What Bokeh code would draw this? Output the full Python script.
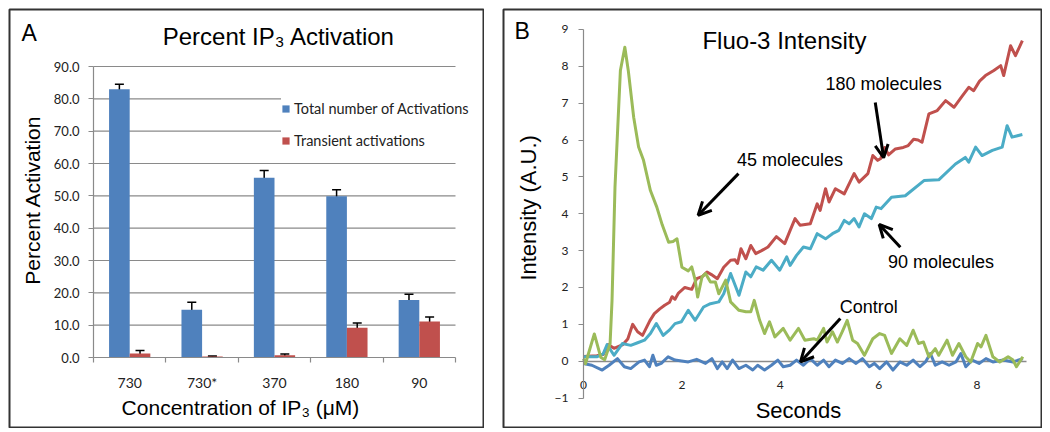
import math
from bokeh.plotting import figure
from bokeh.layouts import row, column
from bokeh.models import (ColumnDataSource, Range1d, FixedTicker, NumeralTickFormatter, Whisker,
                          TeeHead, Legend, LegendItem, Label, Arrow, OpenHead, Spacer)
from bokeh.embed import file_html
from bokeh.resources import INLINE

# ---------------- Panel A data ----------------
categories = ["730", "730*", "370", "180", "90"]
total_pct = [83.0, 14.8, 55.6, 49.9, 17.8]
total_err = [1.5, 2.3, 2.2, 2.0, 1.8]
transient_pct = [1.2, 0.3, 0.7, 9.2, 11.1]
transient_err = [1.0, 0.15, 0.4, 1.5, 1.4]
y_ticks_a = [0, 10, 20, 30, 40, 50, 60, 70, 80, 90]
series_a = ["Total number of Activations", "Transient activations"]

# ---------------- Panel B data ----------------
control_x = [0, 0.17, 0.38, 0.52, 0.69, 0.83, 0.96, 1.13, 1.24, 1.34, 1.41, 1.48, 1.58, 1.72, 1.86,
             2.13, 2.3, 2.48, 2.61, 2.72, 2.82, 2.92, 3.03, 3.16, 3.3, 3.44, 3.54, 3.68, 3.82, 3.95,
             4.06, 4.2, 4.33, 4.47, 4.61, 4.75, 4.88, 4.99, 5.12, 5.26, 5.4, 5.54, 5.67, 5.81, 5.91,
             6.02, 6.16, 6.29, 6.43, 6.57, 6.7, 6.84, 6.95, 7.05, 7.15, 7.29, 7.43, 7.57, 7.67, 7.77,
             7.9, 8.04, 8.18, 8.32, 8.53, 8.73, 8.93]
control_y = [-0.06, -0.11, -0.24, -0.11, 0.07, -0.15, -0.2, -0.02, 0.03, -0.15, 0.16, -0.11, -0.06, 0.12, 0.03,
             -0.02, 0.05, -0.06, 0.07, -0.2, -0.02, -0.2, 0.03, -0.2, -0.11, -0.24, -0.11, -0.24, -0.11, 0.03,
             -0.15, -0.11, 0.03, -0.11, 0.07, -0.11, 0.03, -0.15, 0.03, -0.06, 0.07, -0.06, 0.07, -0.15, -0.06,
             -0.2, -0.02, -0.24, -0.02, -0.11, 0.03, -0.15, -0.02, 0.21, -0.11, -0.02, -0.11, -0.02, 0.21, -0.15,
             0.03, -0.06, 0.07, -0.02, 0.03, -0.02, 0.07]

m180_x = [0, 0.27, 0.4, 0.5, 0.62, 0.8, 0.9, 1.0, 1.1, 1.2, 1.35, 1.44, 1.55, 1.65, 1.75, 1.8, 1.86, 1.93,
          2.06, 2.2, 2.3, 2.42, 2.51, 2.6, 2.72, 2.85, 2.99, 3.08, 3.13, 3.2, 3.3, 3.4, 3.5, 3.62, 3.75,
          3.92, 4.09, 4.2, 4.3, 4.4, 4.61, 4.75, 4.81, 4.92, 4.99, 5.12, 5.3, 5.5, 5.6, 5.78, 5.88, 5.98,
          6.04, 6.12, 6.2, 6.34, 6.5, 6.6, 6.71, 6.8, 6.88, 7.02, 7.19, 7.36, 7.53, 7.7, 7.83, 7.93, 8.05,
          8.17, 8.34, 8.48, 8.54, 8.68, 8.78, 8.92]
m180_y = [0.13, 0.15, 0.18, 0.45, 0.35, 0.45, 0.6, 1.0, 0.8, 0.7, 1.1, 1.29, 1.42, 1.52, 1.6, 1.75, 1.68, 1.85,
          2.0, 1.95, 2.24, 2.3, 2.42, 2.35, 2.24, 2.55, 2.74, 2.75, 2.65, 3.05, 2.78, 3.14, 2.92, 3.0, 3.1,
          3.38, 3.19, 3.55, 3.87, 3.69, 3.73, 4.27, 4.09, 4.68, 4.32, 4.68, 4.54, 5.09, 4.86, 5.09, 5.58, 5.45,
          5.5, 5.8, 5.6, 5.76, 5.8, 5.85, 6.02, 6.0, 5.94, 6.71, 6.8, 7.07, 6.89, 7.2, 7.43, 7.34, 7.6,
          7.75, 7.89, 8.02, 7.75, 8.56, 8.29, 8.7]

m90_x = [0, 0.27, 0.4, 0.48, 0.62, 0.79, 0.96, 1.1, 1.24, 1.36, 1.48, 1.62, 1.75, 1.86, 1.99, 2.13, 2.27,
         2.44, 2.58, 2.75, 2.85, 2.99, 3.16, 3.3, 3.4, 3.51, 3.65, 3.82, 3.99, 4.13, 4.2, 4.33, 4.47, 4.61,
         4.75, 4.92, 5.06, 5.19, 5.3, 5.4, 5.5, 5.6, 5.71, 5.85, 5.95, 6.05, 6.26, 6.54, 6.92, 7.22, 7.56,
         7.66, 7.76, 7.83, 7.97, 8.1, 8.31, 8.51, 8.61, 8.71, 8.92]
m90_y = [0.12, 0.12, 0.2, 0.45, 0.16, 0.48, 0.43, 0.5, 0.57, 0.75, 1.02, 0.7, 0.85, 1.02, 1.07, 1.38, 1.11,
         1.47, 1.56, 1.61, 1.83, 2.38, 1.79, 2.42, 2.29, 2.56, 2.47, 2.74, 2.47, 2.83, 2.6, 2.87, 3.1, 3.05,
         3.46, 3.32, 3.46, 3.55, 3.82, 3.73, 3.87, 3.64, 4.0, 3.87, 4.18, 4.14, 4.45, 4.49, 4.9, 4.92, 5.35,
         5.44, 5.53, 5.4, 5.81, 5.58, 5.72, 5.81, 6.39, 6.08, 6.15]

m45_x = [0, 0.04, 0.22, 0.35, 0.43, 0.54, 0.58, 0.64, 0.75, 0.84, 0.91, 1.02, 1.12, 1.22, 1.36, 1.49, 1.6,
         1.73, 1.82, 1.9, 2.0, 2.13, 2.2, 2.27, 2.32, 2.41, 2.48, 2.58, 2.68, 2.75, 2.89, 2.99, 3.16, 3.3,
         3.4, 3.47, 3.58, 3.68, 3.78, 3.89, 4.06, 4.2, 4.37, 4.5, 4.68, 4.75, 4.88, 4.95, 5.06, 5.16, 5.26,
         5.36, 5.47, 5.57, 5.71, 5.88, 6.02, 6.12, 6.26, 6.43, 6.57, 6.7, 6.81, 6.91, 7.02, 7.15, 7.22, 7.39,
         7.5, 7.63, 7.77, 7.87, 8.01, 8.08, 8.18, 8.32, 8.46, 8.63, 8.73, 8.8, 8.93]
m45_y = [0.07, -0.07, 0.74, 0.11, 0.04, 0.47, 1.65, 4.72, 7.89, 8.52, 7.89, 6.62, 5.81, 5.45, 4.63, 4.18, 3.7,
         3.23, 3.25, 3.32, 2.55, 2.45, 2.56, 2.2, 1.74, 2.29, 2.38, 2.15, 2.15, 1.83, 2.2, 1.61, 1.38, 1.34,
         1.34, 1.65, 1.11, 0.75, 1.07, 0.66, 0.89, 0.57, 0.89, 0.57, 0.61, 0.57, 0.89, 0.52, 0.8, 0.52, 0.8,
         1.11, 0.57, 0.48, 0.16, 0.61, 0.75, 0.7, 0.21, 0.61, 0.43, 0.84, 0.48, 0.52, 0.12, 0.34, 0.16, 0.57,
         0.16, 0.48, 0.12, -0.02, 0.48, 0.39, 0.7, 0.12, -0.02, 0.12, 0.03, -0.15, 0.12]

x_ticks_b = [0, 2, 4, 6, 8]
y_ticks_b = [-1, 0, 1, 2, 3, 4, 5, 6, 7, 8, 9]
x_max_b = 9

# annotation texts: (text, left x, vertical centre y) and arrows: (x_start, y_start, x_end, y_end)
notes_b = [("180 molecules", 4.92, 7.52), ("45 molecules", 3.12, 5.47),
           ("90 molecules", 6.19, 2.69), ("Control", 5.21, 1.465)]
arrows_b = [(5.93, 7.02, 6.10, 5.52), (3.15, 5.09, 2.33, 3.96),
            (6.44, 3.09, 6.01, 3.71), (5.22, 1.16, 4.41, -0.02)]

BLUE = "#4F81BD"
RED = "#C0504D"
GREEN = "#9BBB59"
CYAN = "#4BACC6"
AXIS_GRAY = "#8A8A8A"
ARIAL = "Liberation Sans"
CALIBRI = "Lato"

# ---- layout geometry (page pixels) ----
A_W, A_H = 476, 420
B_W, B_H = 540, 420
GAP = 18
PAGE = 8   # offset added with spacers


def frame_range(px0, px1, anchor_px, anchor_val, px_per_unit, invert=False):
    if invert:  # screen y grows downward
        return Range1d(anchor_val + (anchor_px - px1) / px_per_unit,
                       anchor_val + (anchor_px - px0) / px_per_unit)
    return Range1d(anchor_val + (px0 - anchor_px) / px_per_unit,
                   anchor_val + (px1 - anchor_px) / px_per_unit)


# panel A: x=0 at page 93, 72.4 px per category; y=0 at page 357, 3.2333 px per unit
a_left, a_top = PAGE + 1, PAGE + 1
a_right, a_bottom = PAGE + A_W - 1, PAGE + A_H - 1
xr_a = frame_range(a_left, a_right, 93, 0, 72.4)
yr_a = frame_range(a_top, a_bottom, 357, 0, 291 / 90, invert=True)

# panel B: x=0 at page 583, 49.2 px per second; y=0 at page 360.7, 36.856 px per unit
b_x0 = PAGE + A_W + GAP
b_left, b_top = b_x0 + 1, PAGE + 1
b_right, b_bottom = b_x0 + B_W - 1, PAGE + B_H - 1
xr_b = frame_range(b_left, b_right, 583, 0, 49.2)
yr_b = frame_range(b_top, b_bottom, 360.7, 0, 36.856, invert=True)

# =============== Panel A ===============
pa = figure(width=A_W, height=A_H, output_backend="svg", toolbar_location=None,
            x_range=xr_a, y_range=yr_a,
            min_border_left=1, min_border_right=1, min_border_top=1, min_border_bottom=1)
pa.outline_line_color = "#333333"
pa.outline_line_width = 2
pa.xgrid.visible = False
pa.ygrid.visible = False

n_cat = len(categories)
idx = list(range(n_cat))
bw = 0.285
src_a = ColumnDataSource(dict(
    xt=[i + 0.5 - bw / 2 for i in idx],
    xr=[i + 0.5 + bw / 2 for i in idx],
    total=total_pct,
    tl=[v - e for v, e in zip(total_pct, total_err)],
    tu=[v + e for v, e in zip(total_pct, total_err)],
    trans=transient_pct,
    rl=[max(0, v - e) for v, e in zip(transient_pct, transient_err)],
    ru=[v + e for v, e in zip(transient_pct, transient_err)],
))

# horizontal grid lines spanning the category axis
grid_src = ColumnDataSource(dict(x0=[0] * (len(y_ticks_a) - 1), x1=[n_cat] * (len(y_ticks_a) - 1),
                                 y=y_ticks_a[1:]))
pa.segment(x0="x0", x1="x1", y0="y", y1="y", source=grid_src, line_color=AXIS_GRAY,
           line_width=1.2, level="underlay")

rb = pa.vbar(x="xt", top="total", width=bw, source=src_a, fill_color=BLUE, line_color=None)
rr = pa.vbar(x="xr", top="trans", width=bw, source=src_a, fill_color=RED, line_color=None)

for base, lo, up in [("xt", "tl", "tu"), ("xr", "rl", "ru")]:
    w = Whisker(source=src_a, base=base, lower=lo, upper=up, line_color="black", line_width=1.5,
                upper_head=TeeHead(size=9, line_color="black", line_width=1.5),
                lower_head=TeeHead(size=9, line_color="black", line_width=1.5))
    pa.add_layout(w)

xa = pa.xaxis[0]
xa.fixed_location = 0
xa.bounds = (0, n_cat)
xa.ticker = FixedTicker(ticks=[i + 0.5 for i in idx], minor_ticks=list(range(n_cat + 1)))
xa.major_label_overrides = {i + 0.5: c for i, c in zip(idx, categories)}
xa.axis_line_color = AXIS_GRAY
xa.axis_line_width = 1.2
xa.major_tick_out = 0
xa.major_tick_in = 0
xa.minor_tick_out = 5
xa.minor_tick_in = 0
xa.minor_tick_line_color = AXIS_GRAY
xa.minor_tick_line_width = 1.2
xa.major_label_standoff = 11
xa.major_label_text_font = CALIBRI
xa.major_label_text_font_size = "14px"
xa.major_label_text_color = "#222222"

ya = pa.yaxis[0]
ya.fixed_location = 0
ya.bounds = (y_ticks_a[0], y_ticks_a[-1])
ya.ticker = FixedTicker(ticks=y_ticks_a)
ya.formatter = NumeralTickFormatter(format="0.0")
ya.axis_line_color = AXIS_GRAY
ya.axis_line_width = 1.2
ya.major_tick_out = 5
ya.major_tick_in = 0
ya.major_tick_line_color = AXIS_GRAY
ya.minor_tick_line_color = None
ya.major_label_standoff = 9
ya.major_label_text_font = CALIBRI
ya.major_label_text_font_size = "13px"
ya.major_label_text_color = "#222222"

legend = Legend(items=[LegendItem(label=series_a[0], renderers=[rb]),
                       LegendItem(label=series_a[1], renderers=[rr])],
                location=(272, 277), orientation="vertical",
                label_text_font=CALIBRI, label_text_font_size="14.5px", label_text_color="#222222",
                glyph_width=9, glyph_height=9, label_height=20, spacing=12, padding=6,
                label_standoff=4, border_line_color=None, background_fill_color="white",
                background_fill_alpha=1.0, margin=0)
pa.add_layout(legend)

pa.add_layout(Label(x=-0.994, y=100.5, text="A", text_font=ARIAL, text_font_size="23px",
                    text_color="black", text_align="left", text_baseline="middle"))
pa.add_layout(Label(x=2.562, y=99.4, text="Percent IP\u2083 Activation", text_font=ARIAL,
                    text_font_size="24px", text_color="black", text_align="center",
                    text_baseline="middle"))
pa.add_layout(Label(x=-0.836, y=48.7, text="Percent Activation", text_font=ARIAL,
                    text_font_size="21px", text_color="black", text_align="center",
                    text_baseline="middle", angle=math.pi / 2))
pa.add_layout(Label(x=2.03, y=-15.5, text="Concentration of IP\u2083 (\u03bcM)", text_font=ARIAL,
                    text_font_size="21px", text_color="black", text_align="center",
                    text_baseline="middle"))

# =============== Panel B ===============
pb = figure(width=B_W, height=B_H, output_backend="svg", toolbar_location=None,
            x_range=xr_b, y_range=yr_b,
            min_border_left=1, min_border_right=1, min_border_top=1, min_border_bottom=1)
pb.outline_line_color = "#333333"
pb.outline_line_width = 2
pb.xgrid.visible = False
pb.ygrid.visible = False

xb = pb.xaxis[0]
xb.fixed_location = 0
xb.bounds = (0, x_max_b)
xb.ticker = FixedTicker(ticks=x_ticks_b)
xb.axis_line_color = AXIS_GRAY
xb.axis_line_width = 1.5
xb.major_tick_out = 0
xb.major_tick_in = 0
xb.minor_tick_line_color = None
xb.major_label_standoff = 20
xb.major_label_text_font = CALIBRI
xb.major_label_text_font_size = "12px"
xb.major_label_text_color = "#222222"
xb.level = "underlay"

yb = pb.yaxis[0]
yb.fixed_location = 0
yb.bounds = (y_ticks_b[0], y_ticks_b[-1])
yb.ticker = FixedTicker(ticks=y_ticks_b)
yb.axis_line_color = AXIS_GRAY
yb.axis_line_width = 1.2
yb.major_tick_out = 5
yb.major_tick_in = 0
yb.major_tick_line_color = AXIS_GRAY
yb.minor_tick_line_color = None
yb.major_label_standoff = 10
yb.major_label_text_font = CALIBRI
yb.major_label_text_font_size = "12px"
yb.major_label_text_color = "#222222"

pb.line(control_x, control_y, line_color=BLUE, line_width=3, line_join="round")
pb.line(m180_x, m180_y, line_color=RED, line_width=3, line_join="round")
pb.line(m90_x, m90_y, line_color=CYAN, line_width=3, line_join="round")
pb.line(m45_x, m45_y, line_color=GREEN, line_width=3, line_join="round")

for (x0, y0, x1, y1) in arrows_b:
    pb.add_layout(Arrow(x_start=x0, y_start=y0, x_end=x1, y_end=y1, line_color="black",
                        line_width=3, end=OpenHead(size=13, line_color="black", line_width=3)))
for (t, x, y) in notes_b:
    pb.add_layout(Label(x=x, y=y, text=t, text_font=ARIAL, text_font_size="18px", text_color="black",
                        text_align="left", text_baseline="middle"))

pb.add_layout(Label(x=-1.40, y=8.97, text="B", text_font=ARIAL, text_font_size="23px",
                    text_color="black", text_align="left", text_baseline="middle"))
pb.add_layout(Label(x=4.085, y=8.70, text="Fluo-3 Intensity", text_font=ARIAL, text_font_size="24px",
                    text_color="black", text_align="center", text_baseline="middle"))
pb.add_layout(Label(x=-1.12, y=4.16, text="Intensity (A.U.)", text_font=ARIAL, text_font_size="22px",
                    text_color="black", text_align="center", text_baseline="middle", angle=math.pi / 2))
pb.add_layout(Label(x=4.37, y=-1.33, text="Seconds", text_font=ARIAL, text_font_size="22px",
                    text_color="black", text_align="center", text_baseline="middle"))

layout = column(Spacer(height=PAGE),
                row(Spacer(width=PAGE), pa, Spacer(width=GAP), pb))
open("out.html", "w").write(file_html(layout, INLINE))
